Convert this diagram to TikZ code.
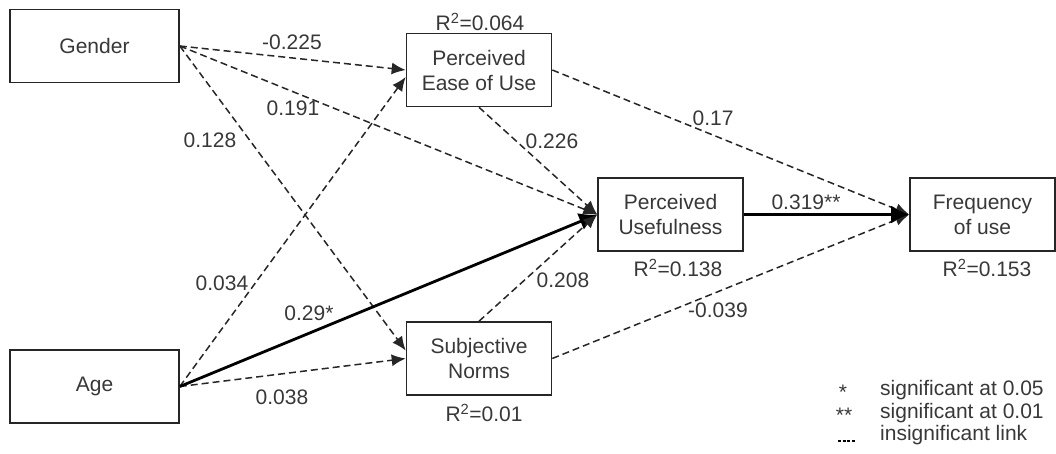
\documentclass[tikz,border=0pt]{standalone}
\usepackage{fontspec}
\setmainfont{Liberation Sans}
\usetikzlibrary{arrows.meta}

\definecolor{txt}{rgb}{0.22,0.22,0.22}

\tikzset{
  box/.style={draw=black!85, line width=1.6pt, fill=white, align=center,
    font=\fontsize{21}{25}\selectfont, text=txt, inner sep=0pt},
  srcbox/.style={box, minimum width=169pt, minimum height=73pt},
  modbox/.style={box, minimum width=145pt, minimum height=73pt},
  lbl/.style={font=\fontsize{21}{25}\selectfont, text=txt, inner sep=0pt},
  insig/.style={draw=black!85, line width=1.5pt, dash pattern=on 7pt off 4pt,
    -{Latex[length=14pt,width=12pt]}},
  sig/.style={line width=2.8pt, -{Latex[length=18pt,width=18pt]}}
}

\begin{document}
\begin{tikzpicture}[x=1pt,y=-1pt]
            \useasboundingbox (0,0) rectangle (1056,453);

            \node[srcbox] (gender) at (94.5,46) {Gender};
            \node[srcbox] (age) at (94.5,386.5) {Age};
            \node[modbox] (peou) at (479,70) {Perceived\\Ease of Use};
            \node[modbox] (sn) at (479,358.5) {Subjective\\Norms};
            \node[modbox] (pu) at (670.5,214.5) {Perceived\\Usefulness};
            \node[modbox] (fou) at (982.5,214.5) {Frequency\\of use};

            \draw[insig] (gender.east) -- (peou.west);
            \draw[insig] (gender.east) -- (pu.west);
            \draw[insig] (gender.east) -- ([yshift=8pt]sn.west);
            \draw[insig] (age.east) -- ([yshift=-7pt]peou.west);
            \draw[insig] (age.east) -- (sn.west);
            \draw[sig] (age.east) -- (pu.west);
            \draw[insig] (peou.south) -- (pu.west);
            \draw[insig] (sn.north) -- (pu.west);
            \draw[insig] (peou.east) -- (fou.west);
            \draw[insig] (sn.east) -- (fou.west);
            \draw[sig] (pu.east) -- (fou.west);

            \node[lbl] (r2peou) at (480,22) {R\textsuperscript{2}=0.064};
            \node[lbl] (r2pu) at (678,268) {R\textsuperscript{2}=0.138};
            \node[lbl] (r2fou) at (987,268) {R\textsuperscript{2}=0.153};
            \node[lbl] (r2sn) at (484,413) {R\textsuperscript{2}=0.01};

            \node[lbl] (l1) at (292,42) {-0.225};
            \node[lbl] (l2) at (293,108) {0.191};
            \node[lbl] (l3) at (210,140) {0.128};
            \node[lbl] (l4) at (552,141) {0.226};
            \node[lbl] (l5) at (713,118) {0.17};
            \node[lbl] (l6) at (806,202) {0.319**};
            \node[lbl] (l7) at (563,280) {0.208};
            \node[lbl] (l8) at (718,310) {-0.039};
            \node[lbl] (l9) at (222,283) {0.034};
            \node[lbl] (l10) at (309,313) {0.29*};
            \node[lbl] (l11) at (282,397) {0.038};

            \node[lbl, anchor=west] (k1) at (880,390) {significant at 0.05};
            \node[lbl, anchor=west] (k2) at (880,413) {significant at 0.01};
            \node[lbl, anchor=west] (k3) at (880,435) {insignificant link};
            \node[lbl] (s1) at (843,392) {*};
            \node[lbl] (s2) at (844,415) {**};
            \draw[line width=1.2pt, dash pattern=on 3pt off 1.5pt] (838,441) -- (856,441);
        \end{tikzpicture}
\end{document}
